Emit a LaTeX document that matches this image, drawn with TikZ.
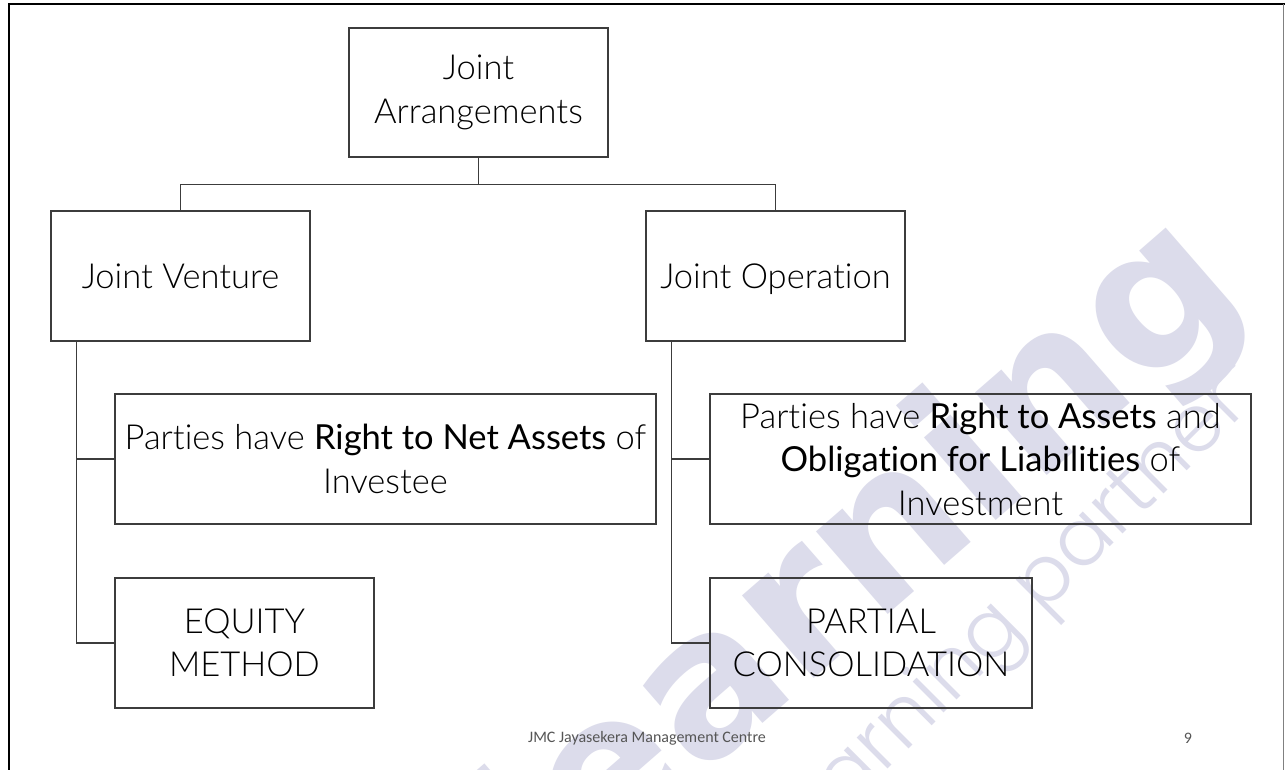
\documentclass[tikz,border=0pt]{standalone}
\usepackage{fontspec}
\setmainfont{Lato Light}[BoldFont={Lato}, Ligatures=NoCommon]
\newfontfamily\footfont{Carlito}
\newfontfamily\wmbold{DejaVu Sans}
\newfontfamily\wmthin{Poppins Light}
\definecolor{boxline}{HTML}{3C3C3C}
\definecolor{wmark}{HTML}{DCDCEB}
\definecolor{footgray}{HTML}{555555}
\begin{document}
\begin{tikzpicture}[x=1pt,y=-1pt,
  box/.style={draw=boxline, line width=1.2pt, inner sep=0pt, align=center,
    minimum height=130pt, text=black, font=\fontsize{34.5}{43.5}\selectfont},
  link/.style={draw=boxline, line width=1.2pt},
  footer/.style={text=footgray, font=\footfont\fontsize{16}{19}\selectfont, inner sep=0pt},
  wmbig/.style={text=wmark, font=\wmbold\bfseries\fontsize{200}{200}\selectfont, inner sep=0pt},
  wmsmall/.style={text=wmark, font=\wmthin\fontsize{80}{80}\selectfont, inner sep=0pt}]
  \useasboundingbox (0,0) rectangle (1285,770);
  \clip (0,0) rectangle (1285,770);
  \fill[white] (0,0) rectangle (1285,770);

  % watermark behind the chart
  \node[wmbig, rotate=41] (wmA) at (862,565) {learning};
  \node[wmsmall, rotate=45] (wmB) at (1020,610) {learning partner”};

  % slide frame
  \draw[black, line width=2.5pt] (9,772) -- (9,4) -- (1287,4);
  \draw[gray, line width=0.8pt] (1283.5,4) -- (1283.5,772);

  % boxes
  \node[box, minimum width=259pt, minimum height=129pt] (top) at (478.5,92.5) {Joint\\Arrangements};
  \node[box, minimum width=259pt, text depth=0pt] (jv) at (180.5,276) {Joint Venture};
  \node[box, minimum width=259pt, text depth=0pt] (jo) at (775.5,276) {Joint Operation};
  \node[box, minimum width=541pt] (jvr) at (385.5,459)
    {Parties have {\bfseries Right to Net Assets} of\\Investee};
  \node[box, minimum width=541pt] (jor) at (980.5,459)
    {Parties have {\bfseries Right to Assets} and\\{\bfseries Obligation for Liabilities} of\\Investment};
  \node[box, minimum width=259pt] (eq) at (244.5,643) {EQUITY\\METHOD};
  \node[box, minimum width=322pt] (pc) at (871,643) {PARTIAL\\CONSOLIDATION};

  % connectors
  \coordinate (bus) at ([yshift=-27pt]top.south);
  \draw[link] (top.south) -- (bus) -| (jv.north);
  \draw[link] (bus) -| (jo.north);
  \coordinate (jvdrop) at ([xshift=26pt]jv.south west);
  \coordinate (jodrop) at ([xshift=26pt]jo.south west);
  \draw[link] (jvdrop) |- (jvr.west);
  \draw[link] (jvdrop) |- (eq.west);
  \draw[link] (jodrop) |- (jor.west);
  \draw[link] (jodrop) |- (pc.west);

  % footer
  \node[footer] (foot) at (647,738) {JMC Jayasekera Management Centre};
  \node[footer] (page) at (1188,738) {9};
\end{tikzpicture}
\end{document}
